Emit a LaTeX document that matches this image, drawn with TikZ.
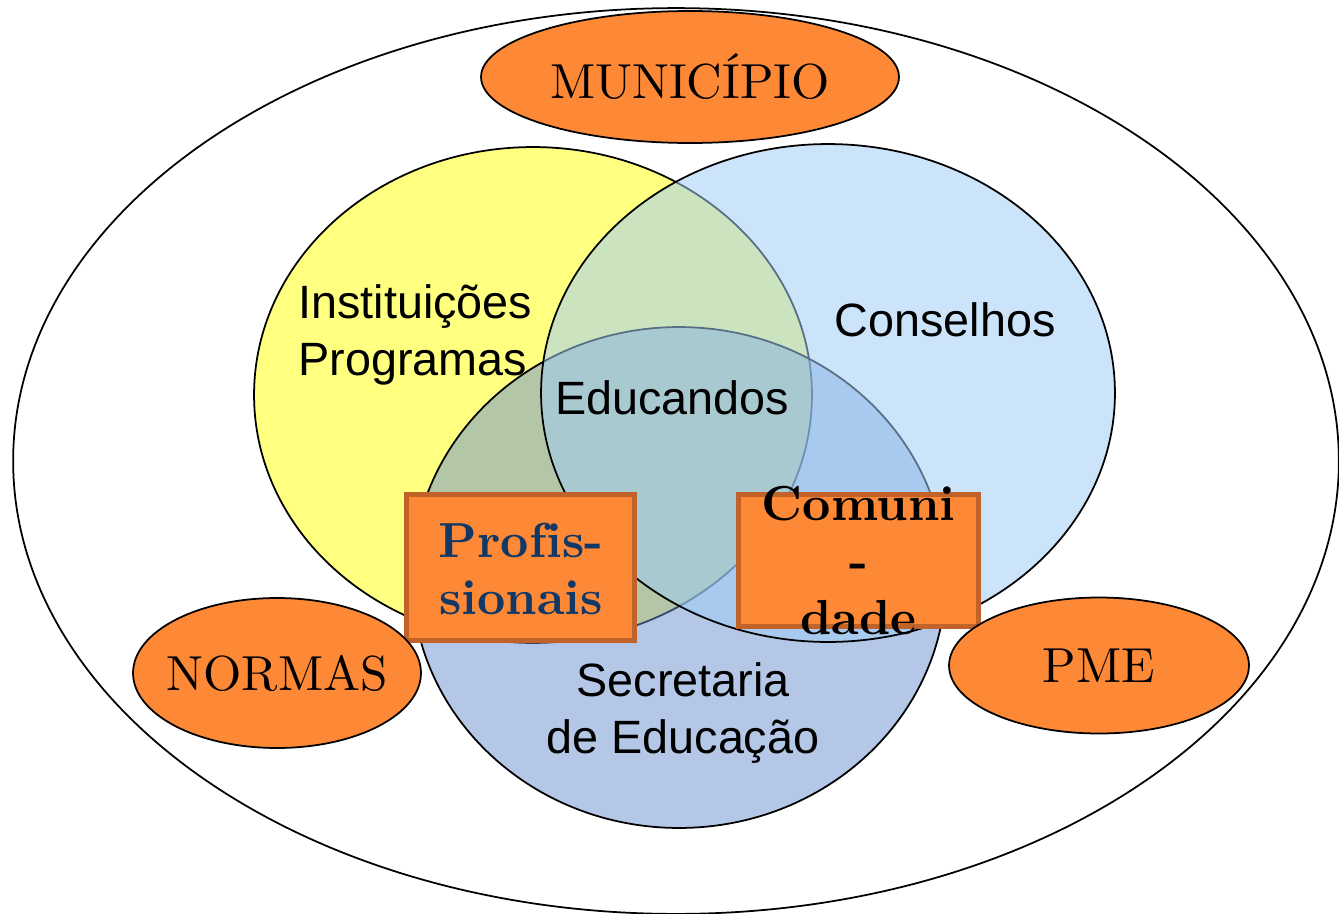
\documentclass[tikz,border=0pt]{standalone}
\usepackage{fontspec}
\setsansfont{Liberation Sans}
\newfontfamily\romdez{lmroman10-regular}[Extension=.otf, BoldFont=lmroman10-bold, Ligatures=CommonOff]
\usetikzlibrary{shapes.geometric, positioning}
\definecolor{laranja}{RGB}{253,136,54}
\definecolor{borda}{RGB}{192,98,42}
\definecolor{amarelo}{RGB}{255,255,128}
\definecolor{azulclaro}{RGB}{161,205,246}
\definecolor{azulsec}{RGB}{105,143,207}
\definecolor{azulescuro}{RGB}{18,56,102}
\tikzset{every node/.style={inner sep=0pt},
conjunto/.style={ellipse, draw, line width=1pt},
destaque/.style={ellipse, draw, line width=1pt, fill=laranja, font=\romdez\fontsize{28}{33}\selectfont},
caixa/.style={rectangle, draw=borda, line width=2.8pt, fill=laranja},
rotulo/.style={font=\sffamily\fontsize{26.6}{32.4}\selectfont, align=center},
negrito/.style={font=\romdez\bfseries\fontsize{28}{32.4}\selectfont, align=center},
}

\begin{document}
\begin{tikzpicture}[x=0.02cm, y=-0.02cm]
    \useasboundingbox (0,0) rectangle (1339,913);
        \node[conjunto, minimum width=26.52cm, minimum height=18.12cm] (area) at (676,461) {};
        \node[destaque, minimum width=8.36cm, minimum height=2.64cm] (mun) at (690,77) {MUNICÍPIO};
        \node[conjunto, fill=amarelo, minimum width=11.16cm, minimum height=9.92cm] (inst circ) at (533,395) {};
        \node[conjunto, fill=azulsec, fill opacity=0.5, minimum width=10.68cm, minimum height=10.02cm] (sec circ) at (679,577.5) {};
        \node[conjunto, fill=azulclaro, fill opacity=0.54, minimum width=11.48cm, minimum height=9.96cm] (cons circ) at (828,393) {};
        \node[rotulo, align=left, anchor=west] (inst) at (298,335) {Instituições\\Programas};
        \node[rotulo] (cons) at (945,320) {Conselhos};
        \node[rotulo] (edu) at (672,398) {Educandos};
        \node[rotulo] (sec) at (683,713) {Secretaria\\de Educação};
        \node[caixa, minimum width=4.56cm, minimum height=2.92cm] (prof caixa) at (520.5,567.5) {};
        \node[negrito, text=azulescuro] (prof) at (521,569) {Profis-\\sionais};
        \node[caixa, minimum width=4.8cm, minimum height=2.64cm] (com caixa) at (858.5,560.5) {};
        \node[negrito] (com) at (com caixa) {Comuni\\-\\dade};
        \node[destaque, inner xsep=-0.4cm, minimum width=5.76cm, minimum height=3cm] (normas) at (277,673) {NORMAS};
        \node[destaque, minimum width=6cm, minimum height=2.72cm] (pme) at (1099,665.5) {PME};
    \end{tikzpicture}
\end{document}
